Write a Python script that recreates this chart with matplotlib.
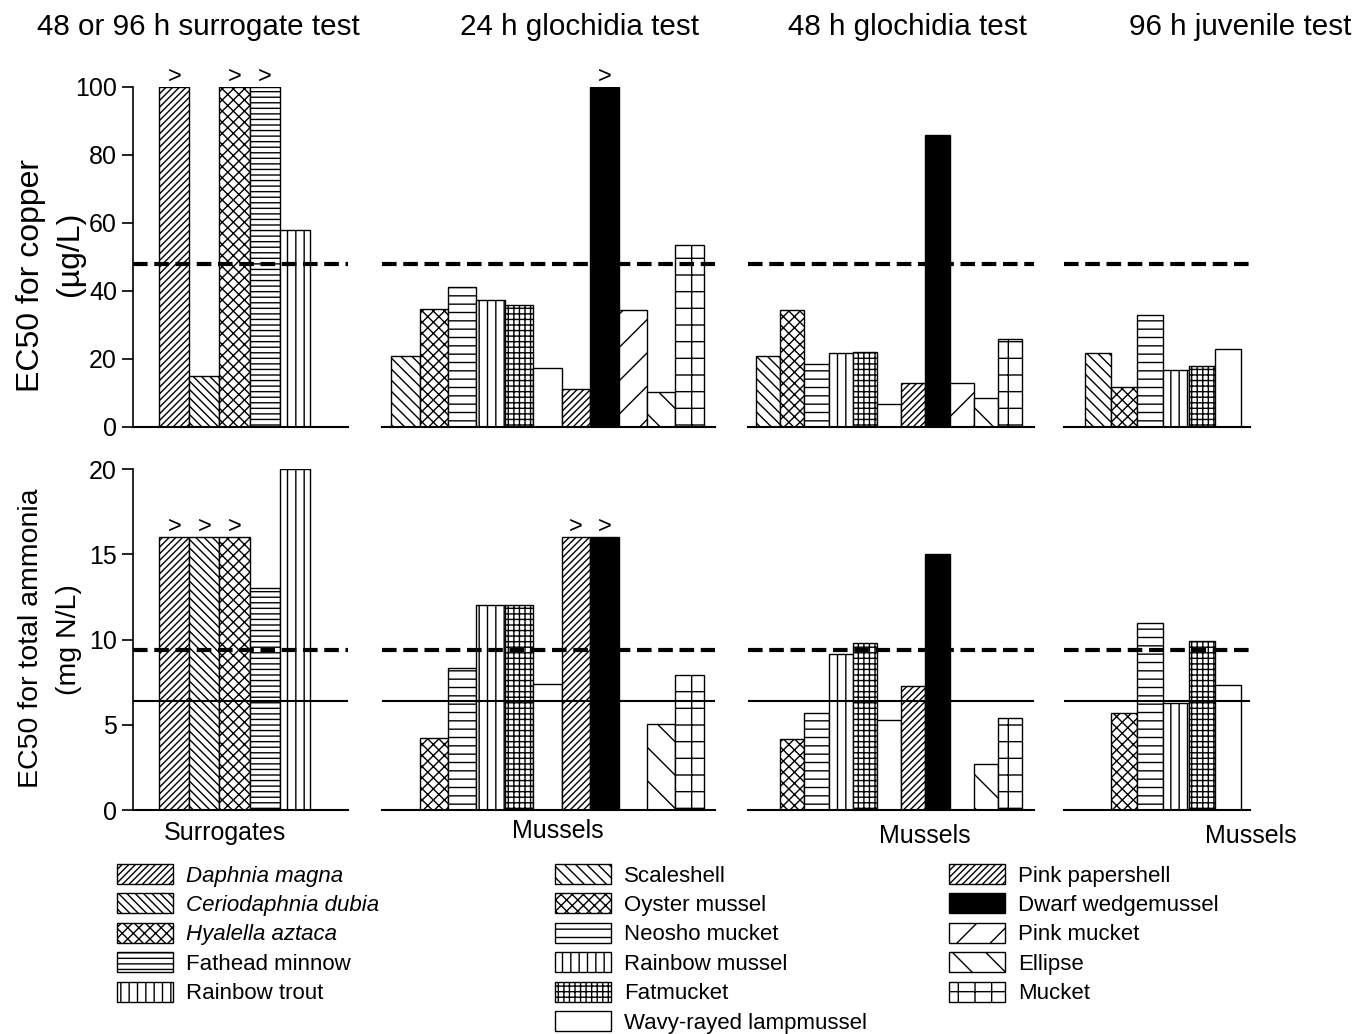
import numpy as np
import matplotlib
matplotlib.use("Agg")
import matplotlib.pyplot as plt
from matplotlib.patches import Patch

plt.rcParams["font.family"] = ["Liberation Sans", "DejaVu Sans"]
plt.rcParams["hatch.linewidth"] = 1.0

# species
surrogate_species = ["Daphnia magna", "Ceriodaphnia dubia", "Hyalella aztaca",
                     "Fathead minnow", "Rainbow trout"]
mussel_species = ["Scaleshell", "Oyster mussel", "Neosho mucket", "Rainbow mussel",
                  "Fatmucket", "Wavy-rayed lampmussel", "Pink papershell",
                  "Dwarf wedgemussel", "Pink mucket", "Ellipse", "Mucket"]
juvenile_species = mussel_species[:6]

# EC50 for copper (ug/L)
copper_surrogate = [100, 15, 100, 100, 58]
copper_gloch24 = [21, 34.6, 41.1, 37.3, 35.8, 17.3, 11.1, 100, 34.4, 10.2, 53.5]
copper_gloch48 = [20.8, 34.3, 18.6, 21.8, 22.1, 6.8, 12.9, 85.8, 13.0, 8.6, 25.8]
copper_juv96 = [21.8, 11.9, 32.8, 16.9, 17.8, 22.8]
copper_surrogate_gt = [True, False, True, True, False]
copper_gloch24_gt = [False] * 7 + [True] + [False] * 3
copper_gloch48_gt = [False] * 11
copper_juv96_gt = [False] * 6

# EC50 for total ammonia (mg N/L); nan = not tested
nan = np.nan
ammonia_surrogate = [16, 16, 16, 13, 20]
ammonia_gloch24 = [nan, 4.24, 8.3, 12.0, 12.0, 7.38, 16, 16, nan, 5.04, 7.93]
ammonia_gloch48 = [nan, 4.18, 5.69, 9.17, 9.79, 5.28, 7.28, 15.0, nan, 2.7, 5.41]
ammonia_juv96 = [nan, 5.69, 10.98, 6.28, 9.93, 7.31]
ammonia_surrogate_gt = [True, True, True, False, False]
ammonia_gloch24_gt = [False] * 6 + [True, True] + [False] * 3
ammonia_gloch48_gt = [False] * 11
ammonia_juv96_gt = [False] * 6

copper_criterion = 48
ammonia_acute = 9.4
ammonia_chronic = 6.4

col_titles = ["48 or 96 h surrogate test", "24 h glochidia test",
              "48 h glochidia test", "96 h juvenile test"]
group_labels = ["Surrogates", "Mussels", "Mussels", "Mussels"]

hatches = {
    "Daphnia magna": "/////",
    "Ceriodaphnia dubia": "\\\\\\\\",
    "Hyalella aztaca": "xxx",
    "Fathead minnow": "---",
    "Rainbow trout": "||",
    "Scaleshell": "\\\\\\",
    "Oyster mussel": "xxx",
    "Neosho mucket": "--",
    "Rainbow mussel": "||",
    "Fatmucket": "+++",
    "Wavy-rayed lampmussel": "",
    "Pink papershell": "/////",
    "Dwarf wedgemussel": "",
    "Pink mucket": "/",
    "Ellipse": "\\",
    "Mucket": "+",
}
fills = {"Dwarf wedgemussel": "black"}

W, H = 1354, 1034
fig = plt.figure(figsize=(W / 100, H / 100), dpi=100)


def px_axes(x0, x1, y_top, y_bot):
    return fig.add_axes([x0 / W, 1 - y_bot / H, (x1 - x0) / W, (y_bot - y_top) / H])


# column geometry in pixels: axis left/right and xlim
cols = [
    (133, 348, (-1.38, 5.78)),
    (382, 715, (-0.82, 10.89)),
    (748, 1034, (-0.83, 10.99)),
    (1064, 1250, (-1.31, 5.85)),
]
species_cols = [surrogate_species, mussel_species, mussel_species, juvenile_species]
copper_data = [copper_surrogate, copper_gloch24, copper_gloch48, copper_juv96]
copper_gt = [copper_surrogate_gt, copper_gloch24_gt, copper_gloch48_gt, copper_juv96_gt]
ammonia_data = [ammonia_surrogate, ammonia_gloch24, ammonia_gloch48, ammonia_juv96]
ammonia_gt = [ammonia_surrogate_gt, ammonia_gloch24_gt, ammonia_gloch48_gt, ammonia_juv96_gt]


def draw_panel(ax, species, values, gt, xlim, ylim):
    x = np.arange(len(species))
    for xi, sp, v, g in zip(x, species, values, gt):
        if np.isnan(v):
            continue
        ax.bar(xi, v, width=1.0, color=fills.get(sp, "white"), edgecolor="black",
               hatch=hatches[sp], linewidth=1.0, zorder=2)
        if g:
            ax.annotate(">", (xi, v), xytext=(0, 7.5), textcoords="offset points",
                        ha="center", va="center", fontsize=17, annotation_clip=False)
    ax.set_xlim(*xlim)
    ax.set_ylim(*ylim)
    ax.set_xticks([])
    for s in ["top", "right"]:
        ax.spines[s].set_visible(False)
    ax.spines["bottom"].set_linewidth(1.5)
    ax.spines["left"].set_linewidth(1.2)
    ax.tick_params(axis="y", labelsize=18, length=8, width=1.2, direction="out")


for i, (x0, x1, xlim) in enumerate(cols):
    ax_top = px_axes(x0, x1, 87, 427)
    draw_panel(ax_top, species_cols[i], copper_data[i], copper_gt[i], xlim, (0, 100))
    ax_top.axhline(copper_criterion, color="black", lw=3, dashes=(3.5, 1.6), zorder=3)

    ax_bot = px_axes(x0, x1, 469, 810)
    draw_panel(ax_bot, species_cols[i], ammonia_data[i], ammonia_gt[i], xlim, (0, 20))
    ax_bot.axhline(ammonia_acute, color="black", lw=3, dashes=(3.5, 1.6), zorder=3)
    ax_bot.axhline(ammonia_chronic, color="black", lw=1.5, zorder=3)

    if i == 0:
        ax_top.set_yticks([0, 20, 40, 60, 80, 100])
        ax_bot.set_yticks([0, 5, 10, 15, 20])
    else:
        for a in (ax_top, ax_bot):
            a.spines["left"].set_visible(False)
            a.set_yticks([])

# column titles and group labels
title_x = [198, 579, 907, 1240]
label_x = [225, 558, 925, 1251]
label_y = [833, 831, 836, 836]
for i in range(4):
    fig.text(title_x[i] / W, 1 - 27 / H, col_titles[i], ha="center", va="center",
             fontsize=21.3)
    fig.text(label_x[i] / W, 1 - label_y[i] / H, group_labels[i], ha="center",
             va="center", fontsize=18)

# y-axis labels, one text per line
fig.text(31 / W, 1 - 275 / H, "EC50 for copper", rotation=90,
         ha="center", va="center", fontsize=23)
fig.text(70 / W, 1 - 254 / H, "(\u00b5g/L)", rotation=90,
         ha="center", va="center", fontsize=23)
fig.text(31 / W, 1 - 638 / H, "EC50 for total ammonia", rotation=90,
         ha="center", va="center", fontsize=20.5)
fig.text(69 / W, 1 - 640 / H, "(mg N/L)", rotation=90,
         ha="center", va="center", fontsize=20.5)

# legends
def handle(sp):
    return Patch(facecolor=fills.get(sp, "white"), edgecolor="black",
                 hatch=hatches[sp], linewidth=1.0)


legend_groups = [
    (surrogate_species, 117),
    (mussel_species[:6], 555),
    (mussel_species[6:], 949),
]
for k, (group, lx) in enumerate(legend_groups):
    leg = fig.legend([handle(sp) for sp in group], group, loc="upper left",
                     bbox_to_anchor=(lx / W, 1 - 864 / H), frameon=False,
                     fontsize=16, handlelength=2.5, handleheight=1.0,
                     handletextpad=0.62, labelspacing=0.31, borderpad=0,
                     borderaxespad=0)
    if k == 0:
        for t in leg.get_texts()[:3]:
            t.set_style("italic")

fig.savefig("out.png", dpi=100)
